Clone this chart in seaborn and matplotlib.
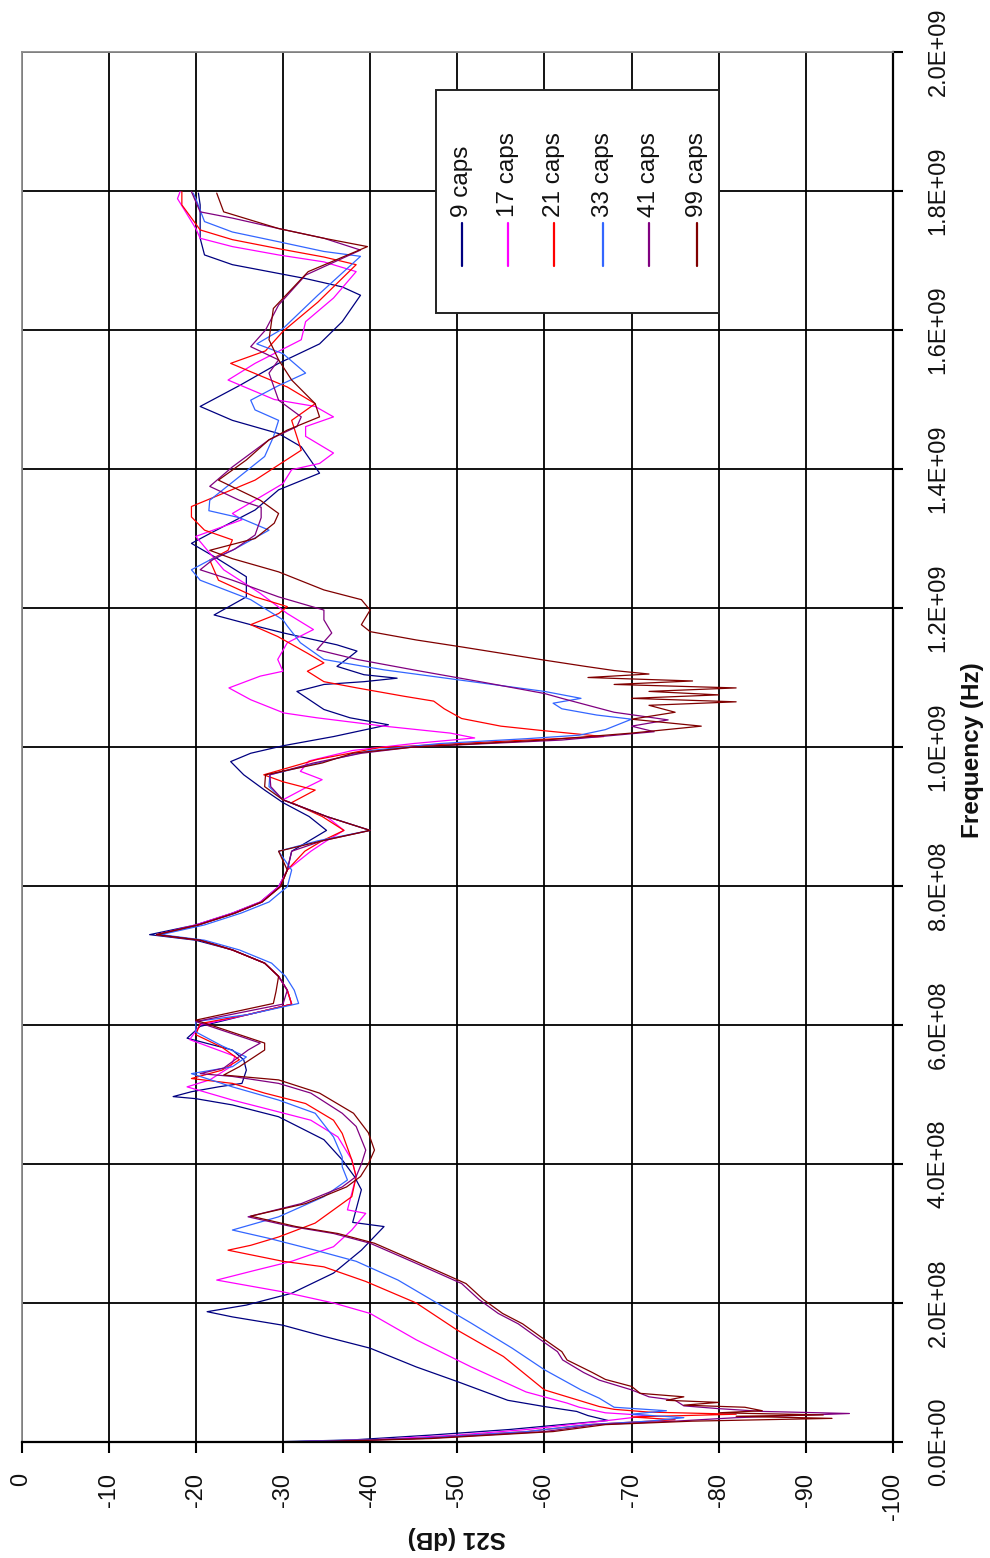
import numpy as np
import pandas as pd
import matplotlib
matplotlib.use("Agg")
import matplotlib.pyplot as plt
from matplotlib.patches import Rectangle
from matplotlib.lines import Line2D
import seaborn as sns

# ---------------- data (frequency in units of 1E8 Hz, S21 in dB) ----------------
series_names = ["9 caps", "17 caps", "21 caps", "33 caps", "41 caps", "99 caps"]
series_colors = ["#000080", "#FF00FF", "#FF0000", "#3366FF", "#800080", "#800000"]

f_9caps = [0.0, 0.03, 0.1, 0.18, 0.25, 0.31, 0.38, 0.44, 0.51, 0.6, 0.87, 1.08, 1.35, 1.52, 1.68, 1.8,
           1.875, 1.97, 2.14, 2.43, 2.76, 3.1, 3.16, 3.63, 3.82, 4.06, 4.35, 4.68, 4.85, 4.94, 4.97,
           5.04, 5.11, 5.16, 5.35, 5.5, 5.64, 5.81, 5.98, 6.15, 6.3, 6.5, 6.7, 6.89, 7.08, 7.22, 7.3,
           7.44, 7.61, 7.77, 7.99, 8.23, 8.5, 8.65, 8.8, 9.0, 9.2, 9.38, 9.6, 9.79, 9.91, 10.02,
           10.15, 10.32, 10.42, 10.54, 10.8, 10.9, 10.94, 10.99, 11.04, 11.16, 11.3, 11.38, 11.47,
           11.64, 11.76, 11.9, 12.16, 12.45, 12.74, 12.93, 13.07, 13.41, 13.7, 13.94, 14.32, 14.51,
           14.7, 14.9, 15.2, 15.52, 15.8, 16.12, 16.5, 16.62, 16.74, 16.84, 16.94, 17.08, 17.32,
           17.8, 17.97]
db_9caps = [-28, -38, -47, -56, -62, -67.3, -65, -63.7, -60, -55.8, -50, -45.3, -40, -34.7, -30, -24.2,
            -21.3, -25.8, -31, -35.8, -39, -41.6, -38, -39, -38.2, -36.8, -34.7, -29.5, -24.2, -20, -17.4,
            -19.5, -22.6, -25.3, -25.8, -25.5, -24.2, -19, -20.5, -26, -31, -30.5, -29.5, -27.9, -24.2, -20, -14.7,
            -20, -24.2, -27.4, -29.5, -30.5, -31, -33, -35, -33, -30, -27.9, -25.5, -24, -26.3, -30.1,
            -35.8, -42.1, -37.7, -34.7, -31.6, -34.7, -39.3, -43.1, -39.3, -36.2, -37.7, -38.5, -36.2,
            -30.1, -26.3, -22.1, -25.8, -25.8, -22.1, -19.5, -21.6, -26.8, -29.5, -34.2, -32.1, -29.5,
            -24.2, -20.5, -25, -29.5, -34.2, -36.8, -38.9, -36.8, -32.6, -28.4, -24.2, -21, -20.5,
            -20.5, -20.3]

f_17caps = [0.0, 0.03, 0.1, 0.18, 0.25, 0.32, 0.38, 0.42, 0.5, 0.56, 0.72, 1.08, 1.47, 1.85, 2.0, 2.16,
            2.33, 2.47, 2.6, 2.81, 3.05, 3.29, 3.34, 3.58, 3.82, 4.06, 4.39, 4.63, 4.75, 4.92, 5.11,
            5.21, 5.4, 5.55, 5.79, 6.0, 6.15, 6.3, 6.5, 6.7, 6.89, 7.08, 7.22, 7.3, 7.44, 7.61, 7.77,
            7.99, 8.23, 8.5, 8.65, 8.8, 9.0, 9.24, 9.4, 9.53, 9.65, 9.8, 9.95, 10.05, 10.13, 10.2,
            10.3, 10.42, 10.49, 10.68, 10.85, 11.02, 11.09, 11.26, 11.5, 11.69, 11.92, 12.21, 12.55,
            13.03, 13.27, 13.36, 13.79, 13.99, 14.08, 14.23, 14.47, 14.61, 14.75, 14.9, 15.0, 15.28,
            15.52, 15.86, 16.12, 16.46, 16.84, 16.98, 17.08, 17.2, 17.32, 17.46, 17.89, 17.99]
db_17caps = [-30, -40, -50, -58, -63, -68, -72, -67, -64, -62.6, -57.9, -51.6, -45.3, -40, -35.8, -30,
             -22.4, -26.8, -31, -35.8, -37.9, -39.5, -37.4, -37.9, -38.4, -37.9, -36.3, -33.2, -29.5, -24.2, -19,
             -21.6, -24, -24.5, -19.3, -20.5, -26, -31, -30.5, -29.5, -27.9, -24.2, -20.5, -15.5, -20, -24.2, -27.4,
             -29.5, -30.5, -33.2, -35, -37, -35, -30, -32.4, -34.5, -32, -33, -38, -45, -52, -49.2,
             -41.6, -33.9, -30.1, -26.3, -23.8, -27.4, -30, -29.4, -30.5, -33.5, -30.5, -27.4, -23.2,
             -20, -25.3, -24.2, -30, -31, -34.2, -35.8, -32.6, -32.6, -35.8, -33.7, -29, -23.7,
             -26.8, -32.1, -32.6, -35.8, -38.4, -34.7, -29.5, -24.2, -20.5, -20, -17.9, -18.2]

f_21caps = [0.0, 0.05, 0.15, 0.25, 0.32, 0.36, 0.4, 0.43, 0.47, 0.51, 0.75, 1.23, 1.61, 2.0, 2.31, 2.52,
            2.6, 2.76, 2.83, 2.95, 3.15, 3.53, 3.82, 4.06, 4.44, 4.63, 4.87, 5.02, 5.16, 5.23, 5.35,
            5.5, 5.68, 5.86, 6.02, 6.15, 6.3, 6.5, 6.7, 6.89, 7.08, 7.22, 7.3, 7.44, 7.61, 7.77, 7.99,
            8.23, 8.5, 8.65, 8.8, 9.0, 9.2, 9.38, 9.5, 9.6, 9.82, 9.99, 10.05, 10.1, 10.15, 10.24,
            10.3, 10.41, 10.55, 10.66, 10.73, 10.85, 10.94, 11.09, 11.21, 11.35, 11.59, 11.76, 11.92,
            12.02, 12.16, 12.4, 12.69, 12.83, 12.98, 13.12, 13.31, 13.46, 13.84, 14.27, 14.7, 14.94,
            15.18, 15.52, 15.7, 15.98, 16.4, 16.94, 17.05, 17.17, 17.3, 17.44, 17.8, 17.99]
db_21caps = [-31, -45, -58, -65, -75, -70, -82, -72, -68, -66.3, -60, -55.3, -50, -45.3, -39.5, -34.7,
             -30, -23.7, -26.3, -29.5, -33.7, -37.9, -38.4, -37.9, -36.8, -35.8, -32.6, -27.9, -24.2, -19.5, -23,
             -25, -23, -20, -20.5, -26, -31, -30.5, -29.5, -27.9, -24.2, -20.5, -15.5, -20.3, -24.5, -27.6, -29.7,
             -30.5, -32.5, -34.5, -37, -34.5, -31, -33.7, -30, -27.8, -33.9, -41, -50, -58, -66.8, -59.5,
             -55, -50.5, -48.5, -47.3, -43.9, -38.5, -34.7, -32.8, -34.7, -32.8, -29.4, -26.3, -29.5,
             -30.5, -26.8, -22.6, -21.6, -23.7, -24.2, -21, -19.5, -19.5, -26.8, -32.1, -31, -33.7,
             -30.5, -24, -28, -30, -34, -38.4, -34.7, -29.5, -24.2, -20.5, -18.4, -18.4]

f_33caps = [0.0, 0.05, 0.15, 0.25, 0.3, 0.35, 0.4, 0.45, 0.5, 0.63, 0.75, 1.04, 1.35, 1.71, 2.02, 2.33,
            2.6, 2.76, 2.93, 3.05, 3.24, 3.53, 3.77, 3.96, 4.1, 4.39, 4.73, 4.92, 5.11, 5.3, 5.4, 5.54,
            5.7, 5.9, 6.05, 6.15, 6.31, 6.5, 6.7, 6.89, 7.08, 7.22, 7.3, 7.44, 7.61, 7.77, 7.99, 8.23,
            8.5, 8.65, 8.8, 9.0, 9.24, 9.43, 9.6, 9.8, 9.95, 10.05, 10.12, 10.17, 10.25, 10.4, 10.46,
            10.55, 10.63, 10.7, 10.8, 10.96, 11.11, 11.26, 11.5, 11.74, 11.83, 12.12, 12.4, 12.55,
            12.69, 12.83, 13.12, 13.3, 13.4, 13.55, 13.94, 14.18, 14.46, 14.7, 14.85, 14.99, 15.2,
            15.38, 15.66, 15.8, 16.02, 16.5, 17.06, 17.13, 17.27, 17.41, 17.56, 17.89, 17.97]
db_33caps = [-30, -45, -58, -65, -72, -76, -70, -74, -68, -66.3, -64.2, -60, -56.3, -51.6, -47.4, -43.2,
             -38.4, -33.7, -28.4, -24.2, -29.5, -34.7, -37.4, -36.8, -36.8, -35.8, -33.7, -29.5, -24.2, -19.5, -24.2, -25.8,
             -23, -20, -20, -26, -31.8, -31.3, -30.3, -28.7, -25, -21, -16, -21, -25.2, -28.4, -30.5, -31,
             -29.5, -34, -40, -35, -30, -28.4, -28.5, -35, -40, -48, -58, -64, -67, -70, -66,
             -62, -61, -64.2, -60, -50.5, -41.6, -34.7, -32, -30.5, -30, -26.3, -20.5, -19.5,
             -21.6, -24.2, -28.4, -25, -21.5, -21.6, -25.5, -27.9, -28.9, -29.5, -26.8, -26.3, -29.5,
             -32.6, -30, -27, -30, -34, -38.9, -34.7, -29.5, -24.2, -21, -20, -19.7]

f_41caps = [0.0, 0.05, 0.15, 0.25, 0.3, 0.35, 0.41, 0.44, 0.48, 0.52, 0.6, 0.65, 0.75, 0.89, 1.0, 1.18,
            1.3, 1.52, 1.7, 1.85, 2.05, 2.28, 2.57, 2.86, 3.0, 3.1, 3.24, 3.43, 3.67, 3.82, 4.0, 4.2,
            4.54, 4.73, 5.02, 5.16, 5.26, 5.3, 5.38, 5.64, 5.74, 6.05, 6.3, 6.5, 6.7, 6.89, 7.08, 7.22,
            7.3, 7.44, 7.61, 7.77, 7.99, 8.23, 8.5, 8.65, 8.8, 9.0, 9.24, 9.43, 9.6, 9.77, 9.91, 10.0,
            10.1, 10.22, 10.3, 10.39, 10.5, 10.6, 10.7, 10.77, 10.94, 11.1, 11.26, 11.4, 11.64, 11.83,
            11.97, 12.16, 12.4, 12.55, 12.7, 12.85, 13.05, 13.3, 13.45, 13.55, 13.75, 14.03, 14.42,
            14.61, 14.75, 14.99, 15.38, 15.57, 15.76, 16.0, 16.36, 16.79, 17.15, 17.32, 17.46, 17.61,
            17.7, 17.99]
db_41caps = [-32, -46, -60, -66, -75, -82, -95, -85, -80, -76, -75, -72, -70, -66.3, -64.5, -62.1,
             -61.5, -59, -57, -54.7, -52.5, -50.5, -45.3, -40, -35.8, -31, -26, -32.1, -36.8, -38.4, -39, -39.5,
             -38.4, -36.8, -33.2, -29.5, -24.2, -20.5, -23.2, -26, -27.4, -20, -30, -30.5, -29.5, -27.9, -24.2, -20.5,
             -15.5, -20.3, -24.5, -27.6, -29.7, -30.5, -31, -34.5, -40, -35, -30, -28.6, -28.5, -33.5, -39, -45,
             -62, -72.6, -70, -74.2, -68, -65, -62, -60, -52.6, -45.4, -38.5, -33.9, -35.6, -34.7,
             -34.7, -29.5, -24.2, -20.5, -22, -24.5, -26.8, -27.5, -27.5, -25, -21.6, -24.2, -28.4,
             -31.6, -32.1, -29.5, -28.4, -29.5, -26.3, -28, -29.5, -32.6, -38.9, -34.7, -29.5, -24.2,
             -20.5, -19.5]

f_99caps = [0.0, 0.05, 0.15, 0.25, 0.3, 0.34, 0.37, 0.39, 0.42, 0.45, 0.5, 0.53, 0.57, 0.6, 0.65, 0.7,
            0.8, 0.9, 1.0, 1.18, 1.3, 1.52, 1.7, 1.85, 2.05, 2.28, 2.57, 2.86, 3.0, 3.1, 3.25, 3.43,
            3.67, 3.82, 4.0, 4.2, 4.45, 4.73, 5.02, 5.21, 5.28, 5.4, 5.64, 5.74, 6.07, 6.31, 6.48, 6.7,
            6.89, 7.08, 7.22, 7.3, 7.44, 7.61, 7.77, 7.99, 8.23, 8.5, 8.65, 8.8, 9.0, 9.24, 9.43, 9.6,
            9.77, 9.91, 10.0, 10.1, 10.2, 10.3, 10.4, 10.5, 10.6, 10.65, 10.7, 10.75, 10.8, 10.85,
            10.9, 10.95, 11.0, 11.05, 11.1, 11.16, 11.25, 11.44, 11.54, 11.66, 11.76, 11.97, 12.12,
            12.26, 12.52, 12.71, 12.83, 13.0, 13.22, 13.36, 13.55, 13.84, 14.13, 14.42, 14.56, 14.75,
            14.94, 15.28, 15.57, 15.86, 16.31, 16.84, 17.2, 17.32, 17.46, 17.7, 17.97]
db_99caps = [-33, -47, -61, -67, -77, -93, -82, -92, -80, -85, -83, -76, -80, -74, -76, -71,
             -70, -67, -65.5, -62.6, -62, -59.5, -57.5, -55.2, -53, -51, -45.8, -40.5, -36.3, -31.5, -26.3, -32.6,
             -37.3, -38.9, -39.8, -40.5, -39.8, -38.1, -34.2, -29.5, -23.2, -25, -27.9, -27.9, -20, -28.9, -29.2, -29.5,
             -27.9, -24.2, -20.5, -15.5, -20.3, -24.5, -27.6, -29.7, -30.5, -29.5, -34.5, -40, -35, -30, -27.9, -28,
             -34.5, -38, -45, -60, -70, -78, -70, -75, -72, -82, -70, -80, -72, -82,
             -68, -77, -65, -72, -68, -64.7, -60, -50.5, -45.3, -40, -39, -40, -39,
             -34.7, -29.5, -24.2, -21.6, -26.8, -29, -29.5, -27.4, -22.6, -25.8, -28.4, -30.5, -34.2,
             -33.7, -31, -29.5, -28.4, -28.9, -32.9, -39.7, -34.7, -29.5, -23.2, -22.4]

db_ticks = [0, -10, -20, -30, -40, -50, -60, -70, -80, -90, -100]
db_tick_labels = ["0", "-10", "-20", "-30", "-40", "-50", "-60", "-70", "-80", "-90", "-100"]
freq_ticks = [0.0, 2e8, 4e8, 6e8, 8e8, 1.0e9, 1.2e9, 1.4e9, 1.6e9, 1.8e9, 2.0e9]
freq_tick_labels = ["0.0E+00", "2.0E+08", "4.0E+08", "6.0E+08", "8.0E+08", "1.0E+09",
                    "1.2E+09", "1.4E+09", "1.6E+09", "1.8E+09", "2.0E+09"]

all_f = [f_9caps, f_17caps, f_21caps, f_33caps, f_41caps, f_99caps]
all_db = [db_9caps, db_17caps, db_21caps, db_33caps, db_41caps, db_99caps]

frames = []
for name, fv, dv in zip(series_names, all_f, all_db):
    frames.append(pd.DataFrame({"freq": np.array(fv) * 1e8, "S21": dv, "series": name}))
df = pd.concat(frames, ignore_index=True)

# ---------------- figure ----------------
sns.set_style("white")
plt.rcParams["font.family"] = ["Liberation Sans", "DejaVu Sans"]

W, H = 990, 1558
fig = plt.figure(figsize=(W / 100, H / 100), dpi=100)
x0, x1, ytop, ybot = 21.5, 893, 52, 1442
ax = fig.add_axes([x0 / W, 1 - ybot / H, (x1 - x0) / W, (ybot - ytop) / H])

palette = dict(zip(series_names, series_colors))
sns.lineplot(data=df, x="S21", y="freq", hue="series", hue_order=series_names,
             palette=palette, sort=False, estimator=None, orient="y",
             legend=False, linewidth=0.9, ax=ax)

ax.set_xlim(0, -100)
ax.set_ylim(0, 2e9)
ax.set_xticks(db_ticks)
ax.set_xticklabels(db_tick_labels)
ax.yaxis.tick_right()
ax.set_yticks(freq_ticks)
ax.set_yticklabels(freq_tick_labels)
ax.set_xlabel("")
ax.set_ylabel("")

ax.grid(True, color="black", linewidth=1.3)
ax.set_axisbelow(True)

ax.tick_params(axis="x", which="both", bottom=True, top=False, direction="out",
               length=8, width=1.5, color="black", pad=14, labelsize=17,
               labelrotation=90, labelcolor="#111111")
ax.tick_params(axis="y", which="both", right=True, left=False, labelright=True,
               labelleft=False, direction="out", length=7, width=1.5, color="black",
               pad=18, labelsize=17, labelrotation=90, labelcolor="#111111")
for lbl in ax.get_yticklabels():
    lbl.set_verticalalignment("center")
    lbl.set_horizontalalignment("left")

for side in ["top", "left"]:
    ax.spines[side].set_color("#8c8c8c")
    ax.spines[side].set_linewidth(1.3)
for side in ["right", "bottom"]:
    ax.spines[side].set_color("black")
    ax.spines[side].set_linewidth(1.6)
    ax.spines[side].set_visible(True)

# axis titles (rotated layout)
fig.text(457 / W, 1 - 1537 / H, "S21 (dB)", rotation=180, ha="center", va="center",
         fontsize=17.5, fontweight="bold", color="#111111")
fig.text(972 / W, 1 - 750 / H, "Frequency (Hz)", rotation=90, ha="center", va="center",
         fontsize=17.5, fontweight="bold", color="#111111")

# legend (rotated, drawn in figure pixel positions)
lx0, lx1, ly0, ly1 = 436, 719, 90, 313
fig.add_artist(Rectangle((lx0 / W, 1 - ly1 / H), (lx1 - lx0) / W, (ly1 - ly0) / H,
                         transform=fig.transFigure, facecolor="white",
                         edgecolor="#222222", linewidth=1.4, zorder=5))
entry_x = [462, 508, 554, 603, 649, 697]
for ex, name, col in zip(entry_x, series_names, series_colors):
    fig.add_artist(Line2D([ex / W, ex / W], [1 - 266 / H, 1 - 223 / H],
                          transform=fig.transFigure, color=col, linewidth=1.6, zorder=6))
    fig.text(ex / W, 1 - 217 / H, name, rotation=90, ha="center", va="bottom",
             fontsize=17.5, color="#111111", zorder=6)

fig.savefig("out.png", dpi=100, facecolor="white")
